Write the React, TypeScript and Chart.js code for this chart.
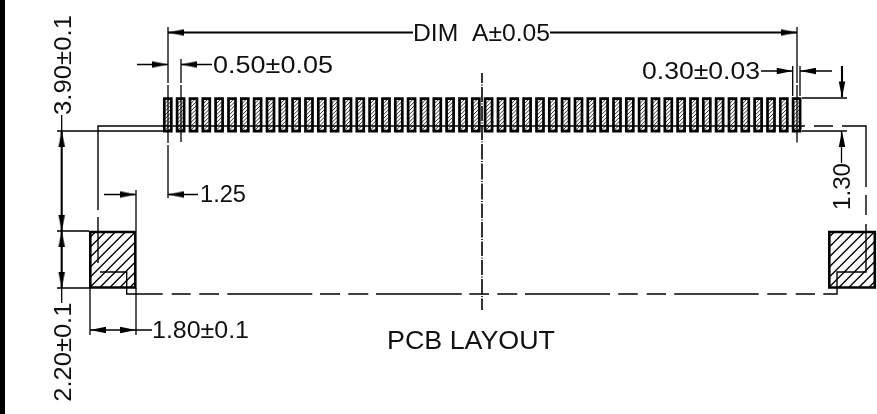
import React, { useEffect, useRef } from "react";
import { Chart, registerables } from "chart.js";

Chart.register(...registerables);

// Drawing values in the sheet's own units: each row is a polyline x,y,x,y,...
const sideBar = [0, 0, 5, 414]; // x0, y0, x1, y1 of the black margin strip

const thinLines = [
  [168, 27, 168, 83], [168, 85, 168, 143], [168, 145, 168, 198],
  [181, 59, 181, 83], [181, 85, 181, 142],
  [797, 27, 797, 83], [797, 85, 797, 142.5],
  [792.7, 66, 792.7, 96], [800, 66, 800, 96],
  [137, 64.5, 168, 64.5], [181, 64.5, 212, 64.5],
  [761, 71, 792.7, 71], [800, 71, 832, 71],
  [104, 194.5, 136, 194.5], [168, 194.5, 198, 194.5],
  [136, 190, 136, 231], [90, 288, 90, 335], [136, 288, 136, 335],
  [90, 330, 152, 330],
  [57, 131, 163, 131], [802, 98, 847, 98], [802, 131, 847, 131],
  [57, 231, 89, 231], [57, 288, 89, 288],
  [61.7, 115, 61.7, 131], [61.7, 288, 61.7, 303],
  [841.5, 131, 841.5, 163],
];

const datumLines = [
  [98, 210, 98, 126, 805, 126], [814, 126, 833, 126],
  [842, 126, 866, 126, 866, 187], [866, 195, 866, 215],
  [98, 217, 98, 263], [100, 272, 126.7, 272, 126.7, 294, 162.7, 294],
  [866, 224, 866, 272, 837, 272, 837, 294, 823.3, 294],
  [171.7, 294, 190.7, 294], [199.3, 294, 219, 294], [227.3, 294, 312.3, 294],
  [320, 294, 340, 294], [348.3, 294, 368.3, 294], [376, 294, 461.7, 294],
  [469.3, 294, 489, 294], [497.3, 294, 517.3, 294], [525, 294, 610, 294],
  [618.3, 294, 637.7, 294], [646.7, 294, 666, 294], [674.3, 294, 758.7, 294],
  [767.3, 294, 786.7, 294], [795.7, 294, 815, 294],
];

const dimLinesBold = [
  [168, 32.5, 413, 32.5], [550, 32.5, 797, 32.5],
  [61.7, 131, 61.7, 288],
  [842, 66, 842, 97],
];

const centreLine = [
  [482, 73, 482, 83], [482, 84.5, 482, 85.5], [482, 87, 482, 102], [482, 103.5, 482, 104.5],
  [482, 106, 482, 121], [482, 122.5, 482, 123.5], [482, 125, 482, 140], [482, 141.5, 482, 142.5],
  [482, 144, 482, 159.5], [482, 161, 482, 162], [482, 163.5, 482, 179.5], [482, 181, 482, 182],
  [482, 183.5, 482, 199.5], [482, 201, 482, 202], [482, 203.5, 482, 218], [482, 219.5, 482, 220.5],
  [482, 222, 482, 237.5], [482, 239, 482, 240], [482, 241.5, 482, 256], [482, 257.5, 482, 258.5],
  [482, 260, 482, 275], [482, 276.5, 482, 277.5], [482, 279, 482, 294.5], [482, 296, 482, 297],
  [482, 298.5, 482, 310],
];

const padLefts = [
  164.3, 177.1, 190, 202.8, 215.6, 228.5, 241.3, 254.1, 267, 279.8,
  292.6, 305.5, 318.3, 331.1, 344, 356.8, 369.6, 382.5, 395.3, 408.1,
  421, 433.8, 446.6, 459.5, 472.3, 485.1, 498, 510.8, 523.6, 536.5,
  549.3, 562.1, 575, 587.8, 600.6, 613.5, 626.3, 639.1, 652, 664.8,
  677.6, 690.5, 703.3, 716.1, 729, 741.8, 754.6, 767.5, 780.3, 793.1,
];
const padTop = [98.6];
const padBottom = [131.2];
const padWidth = [7];

// x0, y0, x1, y1 of the two mounting pads
const mountPads = [
  [90.3, 232, 135.3, 287.5],
  [829.3, 232, 874.8, 287.5],
];

// tip x, tip y, direction in degrees
const arrowTips = [
  [168, 32.5, 180], [797, 32.5, 0],
  [168, 64.5, 0], [181, 64.5, 180],
  [792.7, 71, 0], [800, 71, 180],
  [136, 194.5, 0], [168, 194.5, 180],
  [90, 330, 180], [136, 330, 0],
  [61.7, 131, 270], [61.7, 231, 90], [61.7, 231, 270], [61.7, 288, 90],
  [842, 97.5, 90], [842, 131, 270],
];

const labelTexts = ["DIM  A±0.05", "0.50±0.05", "0.30±0.03", "1.25", "1.80±0.1", "PCB LAYOUT", "3.90±0.1", "2.20±0.1", "1.30"];
const labelX = [413, 213, 642, 200, 152, 387, 70.7, 70.7, 850];
const labelY = [41, 72.7, 79.3, 202.3, 338.3, 349, 115, 401.7, 210];
const labelLength = [137, 120, 118, 46, 97, 168, 100, 99, 47];
const labelSize = [23, 23, 23, 23, 23, 26, 23, 23, 23];
const labelAngle = [0, 0, 0, 0, 0, 0, -90, -90, -90];

type P = { x: number; y: number };

function toPoints(rows: number[][]): P[] {
  const pts: P[] = [];
  rows.forEach((r, n) => {
    if (n > 0) pts.push({ x: NaN, y: NaN });
    for (let i = 0; i + 1 < r.length; i += 2) pts.push({ x: r[i], y: r[i + 1] });
  });
  return pts;
}

function hatch(rect: number[], step: number): number[][] {
  const [x0, y0, x1, y1] = rect;
  const rows: number[][] = [];
  for (let c = x0 + y0 + step / 2; c < x1 + y1; c += step) {
    const ax = Math.max(x0, c - y1);
    const bx = Math.min(x1, c - y0);
    if (bx > ax) rows.push([ax, c - ax, bx, c - bx]);
  }
  return rows;
}

function padRect(left: number): number[][] {
  const l = left, r = left + padWidth[0], t = padTop[0], b = padBottom[0];
  return [[l, t, r, t, r, b, l, b, l, t - 1.3]];
}

function arrowImage(): HTMLCanvasElement {
  const c = document.createElement("canvas");
  c.width = 36;
  c.height = 36;
  const g = c.getContext("2d")!;
  g.fillStyle = "#000";
  g.beginPath();
  g.moveTo(18, 18);
  g.lineTo(2, 14.8);
  g.lineTo(2, 21.2);
  g.closePath();
  g.fill();
  return c;
}

const textPlugin = {
  id: "sheetText",
  afterDatasetsDraw(chart: any) {
    const { ctx, scales } = chart;
    const px0 = scales.x.getPixelForValue(sideBar[0]);
    const py0 = scales.y.getPixelForValue(sideBar[1]);
    ctx.save();
    ctx.fillStyle = "#000";
    ctx.fillRect(px0, py0, scales.x.getPixelForValue(sideBar[2]) - px0, scales.y.getPixelForValue(sideBar[3]) - py0);
    ctx.restore();
    labelTexts.forEach((text, i) => {
      ctx.save();
      ctx.font = `${labelSize[i]}px "Liberation Sans"`;
      ctx.fillStyle = "#111";
      ctx.textBaseline = "alphabetic";
      ctx.textAlign = "left";
      ctx.translate(scales.x.getPixelForValue(labelX[i]), scales.y.getPixelForValue(labelY[i]));
      ctx.rotate((labelAngle[i] * Math.PI) / 180);
      ctx.scale(labelLength[i] / ctx.measureText(text).width, 1);
      ctx.fillText(text, 0, 0);
      ctx.restore();
    });
  },
};

function lineSet(rows: number[][], width: number, order: number, color = "#000") {
  return {
    data: toPoints(rows),
    showLine: true,
    spanGaps: false,
    borderColor: color,
    borderWidth: width,
    borderCapStyle: "butt",
    borderJoinStyle: "miter",
    pointRadius: 0,
    pointHoverRadius: 0,
    order,
  };
}

export default function App() {
  const ref = useRef<HTMLCanvasElement>(null);
  useEffect(() => {
    if (!ref.current) return;
    const padHatch = padLefts.flatMap((l) => hatch([l, padTop[0], l + padWidth[0], padBottom[0]], 3.8));
    const mountHatch = mountPads.flatMap((m) => hatch(m, 10));
    const mountOutlines = mountPads.map(([a, b, c, d]) => [a, b, c, b, c, d, a, d, a, b - 1.3]);
    const arrow = arrowImage();
    const chart = new Chart(ref.current, {
      type: "scatter",
      data: {
        datasets: [
          {
            data: arrowTips.map(([x, y]) => ({ x, y })),
            pointStyle: arrow,
            pointRadius: 18,
            pointRotation: arrowTips.map((a) => a[2]),
            showLine: false,
            order: 0,
          },
          lineSet(dimLinesBold, 2.1, 2),
          lineSet(mountOutlines, 2.6, 3),
          lineSet(padLefts.flatMap(padRect), 2.7, 4),
          lineSet(centreLine, 1.6, 5),
          lineSet(datumLines, 1.4, 6),
          lineSet(thinLines, 1.3, 7),
          lineSet(mountHatch, 1.3, 8),
          lineSet(padHatch, 1, 9, "#333"),
        ] as any,
      },
      options: {
        responsive: false,
        devicePixelRatio: 1,
        animation: false,
        layout: { padding: 0, autoPadding: false },
        events: [],
        scales: {
          x: { type: "linear", min: 0, max: 877, display: false },
          y: { type: "linear", min: 0, max: 414, reverse: true, display: false },
        },
        plugins: { legend: { display: false }, tooltip: { enabled: false } },
      } as any,
      plugins: [textPlugin],
    });
    return () => chart.destroy();
  }, []);
  return (
    <div style={{ position: "fixed", left: 0, top: 0, width: 877, height: 414, background: "#fff" }}>
      <canvas ref={ref} width={877} height={414} style={{ display: "block" }} />
    </div>
  );
}
